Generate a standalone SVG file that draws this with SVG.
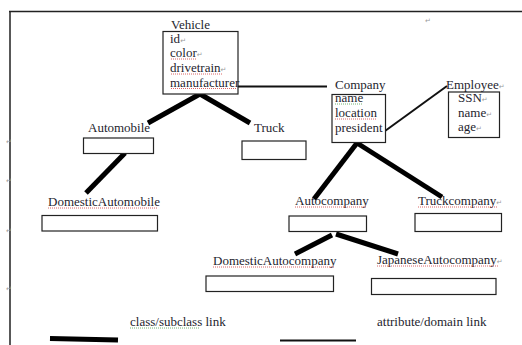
<svg xmlns="http://www.w3.org/2000/svg" width="522" height="345" viewBox="0 0 522 345">
<style>
text{font-family:"Liberation Serif","Times New Roman",serif;font-size:13px;fill:#1e1e2e}
.pm{font-family:"DejaVu Sans",sans-serif;font-size:7px;fill:#9a9a9a}
.box{fill:#fff;stroke:#222;stroke-width:1.2}
.thick{stroke:#000;stroke-width:5;stroke-linecap:butt;fill:none}
.thin{stroke:#111;stroke-width:2;fill:none}
.frame{stroke:#222;stroke-width:1.5;fill:none}
.sq{stroke:#d04040;stroke-width:0.8;stroke-dasharray:1 1;fill:none}
.sqg{stroke:#50a050;stroke-width:0.8;stroke-dasharray:1 1;fill:none}
</style>
<rect width="522" height="345" fill="#fff"/>
<path class="frame" d="M9,11.5 H522 M10,11 V345"/>
<g id="marks">
<text class="pm" x="425" y="23">↵</text>
<text class="pm" x="6" y="144">↵</text>
<text class="pm" x="6" y="183">↵</text>
<text class="pm" x="6" y="233">↵</text>
<text class="pm" x="6" y="291">↵</text>
</g>
<g id="connectors">
<line class="thin" x1="238" y1="86.5" x2="327" y2="86.5"/>
<line class="thin" x1="385" y1="131" x2="447" y2="86"/>
<line class="thick" x1="200" y1="94" x2="148" y2="123"/>
<line class="thick" x1="200" y1="94" x2="250" y2="123"/>
<line class="thick" x1="125" y1="153" x2="86" y2="193"/>
<line class="thick" x1="357" y1="143" x2="314" y2="199"/>
<line class="thick" x1="357" y1="143" x2="442" y2="197"/>
<line class="thick" x1="332" y1="235" x2="295" y2="254"/>
<line class="thick" x1="336" y1="234" x2="398" y2="254"/>
</g>
<g id="vehicle">
<text x="171" y="28.5">Vehicle</text>
<rect class="box" x="163" y="31.5" width="75" height="62.5"/>
<text x="170" y="43">id<tspan class="pm">↵</tspan></text>
<text x="170" y="57">color<tspan class="pm">↵</tspan></text>
<text x="170" y="72">drivetrain<tspan class="pm">↵</tspan></text>
<text x="170" y="86.5">manufacturer</text>
<path class="sq" d="M171,59 H197 M171,74 H222 M171,88.5 H236"/>
</g>
<g id="company">
<text x="335" y="88.5">Company</text>
<rect class="box" x="332" y="94.5" width="53.5" height="48"/>
<text x="335" y="102">name</text>
<text x="335" y="117">location</text>
<text x="335" y="131.5">president</text>
<path class="sqg" d="M335,104 H363"/>
<path class="sq" d="M335,119 H376"/>
</g>
<g id="employee">
<text x="446" y="88.5">Employee<tspan class="pm">↵</tspan></text>
<rect class="box" x="448.5" y="92" width="51" height="45.5"/>
<text x="458" y="102">SSN<tspan class="pm">↵</tspan></text>
<text x="458" y="116.5">name<tspan class="pm">↵</tspan></text>
<text x="458" y="130.5">age<tspan class="pm">↵</tspan></text>
</g>
<g id="automobile">
<text x="88" y="132">Automobile</text>
<rect class="box" x="83.5" y="138" width="70" height="15.5"/>
</g>
<g id="truck">
<text x="254" y="132">Truck</text>
<rect class="box" x="242" y="141" width="64" height="18.5"/>
</g>
<g id="domesticautomobile">
<text x="48" y="206">DomesticAutomobile</text>
<rect class="box" x="42" y="215.5" width="115.5" height="15.5"/>
<path class="sq" d="M48,208 H157"/>
</g>
<g id="autocompany">
<text x="295" y="205">Autocompany</text>
<rect class="box" x="289" y="216" width="77.5" height="15.5"/>
<path class="sq" d="M295,207 H367"/>
</g>
<g id="truckcompany">
<text x="418" y="205">Truckcompany<tspan class="pm">↵</tspan></text>
<rect class="box" x="415" y="213.5" width="86.5" height="18"/>
<path class="sq" d="M418,207 H497"/>
</g>
<g id="domesticautocompany">
<text x="213" y="265">DomesticAutocompany</text>
<rect class="box" x="206" y="276" width="127.5" height="15.5"/>
<path class="sq" d="M213,267 H334"/>
</g>
<g id="japaneseautocompany">
<text x="377" y="264">JapaneseAutocompany<tspan class="pm">↵</tspan></text>
<rect class="box" x="371.5" y="278.5" width="124.5" height="16"/>
<path class="sq" d="M377,266 H499"/>
</g>
<g id="legend">
<line class="thick" x1="50" y1="338.5" x2="118" y2="340"/>
<text x="130" y="326">class/subclass link</text>
<path class="sqg" d="M130,328 H200"/>
<line class="thin" x1="280" y1="340.5" x2="356" y2="340.5"/>
<text x="377" y="326">attribute/domain link</text>
</g>
</svg>
